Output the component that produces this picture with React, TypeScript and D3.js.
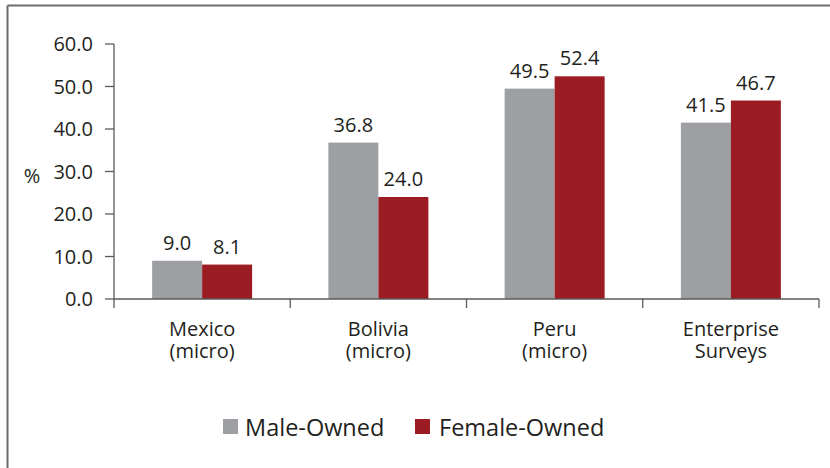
import React from "react";
import * as d3 from "d3";

const categories = ["Mexico|(micro)", "Bolivia|(micro)", "Peru|(micro)", "Enterprise|Surveys"];
const maleValues = [9.0, 36.8, 49.5, 41.5];
const femaleValues = [8.1, 24.0, 52.4, 46.7];
const seriesNames = ["Male-Owned", "Female-Owned"];
const yTicks = [0, 10, 20, 30, 40, 50, 60];

const W = 830;
const H = 468;
const left = 114;
const right = 819;
const top = 44;
const bottom = 299;
const GRAY = "#9d9fa2";
const RED = "#9b1c23";
const TEXT = "#231f20";
const AXIS = "#5a5a5a";
const FONT = "'Open Sans', 'Noto Sans', sans-serif";

export default function App() {
  const x = d3.scaleBand<string>().domain(categories).range([left, right]).paddingInner(0).paddingOuter(0);
  const sub = d3
    .scaleBand<string>()
    .domain(seriesNames)
    .range([0, x.bandwidth()])
    .paddingInner(0)
    .paddingOuter(0.7625);
  const y = d3.scaleLinear().domain([0, 60]).range([bottom, top]);
  const colors = [GRAY, RED];
  const series = [maleValues, femaleValues];
  const bounds = [...categories.map((c) => x(c) as number), right];

  return (
    <svg width={W} height={H} style={{ position: "absolute", left: 0, top: 0, background: "#fff" }} fontFamily={FONT}>
      <rect x={0} y={0} width={W} height={H} fill="#fff" />
      {/* frame */}
      <line x1={7.5} y1={5.5} x2={W} y2={5.5} stroke="#6d6d6d" strokeWidth={2} />
      <line x1={7.5} y1={5.5} x2={7.5} y2={H} stroke="#6d6d6d" strokeWidth={2} />

      {/* bars */}
      {categories.map((c, i) =>
        series.map((vals, s) => {
          const bx = (x(c) as number) + (sub(seriesNames[s]) as number);
          const v = vals[i];
          return (
            <g key={c + s}>
              <rect x={bx} y={y(v)} width={sub.bandwidth()} height={y(0) - y(v)} fill={colors[s]} />
              <text
                x={bx + sub.bandwidth() / 2}
                y={y(v) - 11}
                textAnchor="middle"
                fontSize={20}
                fill={TEXT}
              >
                {v.toFixed(1)}
              </text>
            </g>
          );
        })
      )}

      {/* y axis */}
      <line x1={left} y1={top} x2={left} y2={bottom} stroke={AXIS} strokeWidth={1.3} />
      {yTicks.map((t) => (
        <g key={t}>
          <line x1={left - 9} x2={left} y1={y(t)} y2={y(t)} stroke={AXIS} strokeWidth={1.3} />
          <text x={93} y={y(t)} dy="0.36em" textAnchor="end" fontSize={20} fill={TEXT}>
            {t.toFixed(1)}
          </text>
        </g>
      ))}
      <text x={32} y={176} dy="0.36em" textAnchor="middle" fontSize={20} fill={TEXT}>
        %
      </text>

      {/* x axis */}
      <line x1={left} y1={bottom} x2={right} y2={bottom} stroke={AXIS} strokeWidth={1.3} />
      {bounds.map((b, i) => (
        <line key={i} x1={b} x2={b} y1={bottom} y2={bottom + 9} stroke={AXIS} strokeWidth={1.3} />
      ))}
      {categories.map((c) => {
        const cx = (x(c) as number) + x.bandwidth() / 2;
        const lines = c.split("|");
        return (
          <text key={c} x={cx} textAnchor="middle" fontSize={20} fill={TEXT}>
            {lines.map((l, k) => (
              <tspan key={k} x={cx} y={336 + k * 22}>
                {l}
              </tspan>
            ))}
          </text>
        );
      })}

      {/* legend */}
      <rect x={223} y={419} width={15} height={15} fill={GRAY} />
      <text x={245} y={435.5} fontSize={23.5} fill={TEXT}>
        {seriesNames[0]}
      </text>
      <rect x={415} y={419} width={15} height={15} fill={RED} />
      <text x={439} y={435.5} fontSize={23.5} fill={TEXT}>
        {seriesNames[1]}
      </text>
    </svg>
  );
}
